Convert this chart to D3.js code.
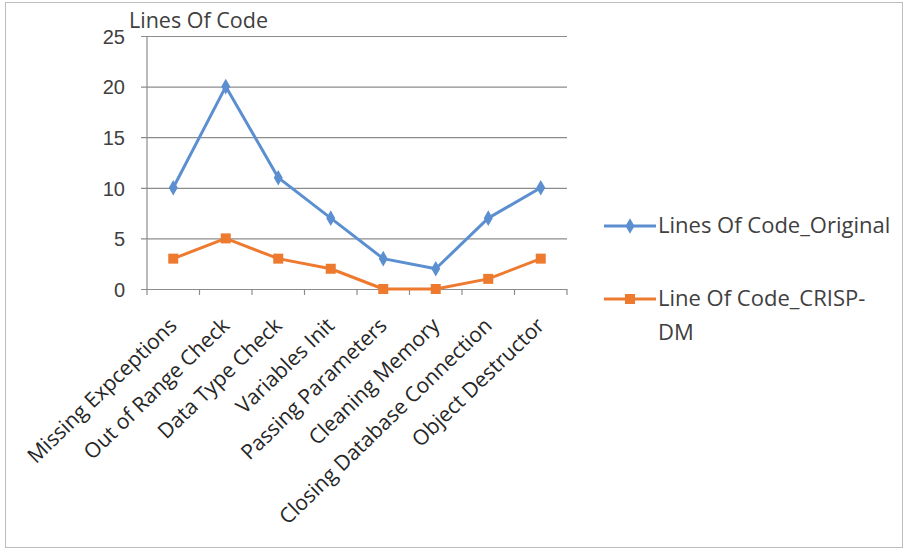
<!DOCTYPE html>
<html>
<head>
<meta charset="utf-8">
<script src="https://cdn.jsdelivr.net/npm/d3@7"></script>
<style>
  html, body { margin: 0; padding: 0; background: #fff; }
  svg { display: block; font-family: "Open Sans", Lato, sans-serif; }
</style>
</head>
<body>
<svg id="chart" width="906" height="552"></svg>
<script>
// Lines of code per check, original implementation vs CRISP-DM version
const categories = [
  "Missing Expceptions", "Out of Range Check", "Data Type Check", "Variables Init",
  "Passing Parameters", "Cleaning Memory", "Closing Database Connection", "Object Destructor"
];
const originalValues = [10, 20, 11, 7, 3, 2, 7, 10];
const crispValues = [3, 5, 3, 2, 0, 0, 1, 3];
const yTicks = [0, 5, 10, 15, 20, 25];
const seriesNames = ["Lines Of Code_Original", "Line Of Code_CRISP-DM"];
const axisTitle = "Lines Of Code";

const blue = "#5b8fd0";
const orange = "#ee7a30";
const gridColor = "#8c8c8c";
const textColor = "#404040";

const svg = d3.select("#chart");

// outer frame
svg.append("rect")
  .attr("x", 5.5).attr("y", 2.5).attr("width", 897).attr("height", 545)
  .attr("fill", "#fff").attr("stroke", "#bdbdbd").attr("stroke-width", 1);

const plot = { left: 147, right: 567, top: 36, bottom: 289 };

const x = d3.scaleBand().domain(categories).range([plot.left, plot.right]);
const y = d3.scaleLinear().domain([0, 25]).range([plot.bottom, plot.top]);

// horizontal gridlines with small ticks to the left of the axis
const yAxis = d3.axisLeft(y).tickValues(yTicks).tickSize(-(plot.right - plot.left)).tickPadding(22).tickFormat(d3.format("d"));
const gy = svg.append("g").attr("transform", `translate(${plot.left},0)`).call(yAxis);
gy.select(".domain").remove();
gy.selectAll(".tick line").attr("stroke", gridColor).attr("stroke-width", 1.2).attr("x1", -6);
gy.selectAll(".tick text").attr("fill", textColor).style("font-size", "20px").attr("dy", "0.36em");

// vertical axis line
svg.append("line")
  .attr("x1", plot.left).attr("x2", plot.left)
  .attr("y1", plot.top).attr("y2", plot.bottom)
  .attr("stroke", gridColor).attr("stroke-width", 1.2);

// category axis: tick marks at band boundaries
const boundaries = categories.map(c => x(c)).concat([plot.right]);
svg.append("g").selectAll("line").data(boundaries).join("line")
  .attr("x1", d => d).attr("x2", d => d)
  .attr("y1", plot.bottom).attr("y2", plot.bottom + 6)
  .attr("stroke", gridColor).attr("stroke-width", 1.2);

// rotated category labels
svg.append("g").selectAll("text").data(categories).join("text")
  .attr("transform", d => `translate(${x(d) + x.bandwidth() / 2 + 5},${plot.bottom + 38}) rotate(-44)`)
  .attr("text-anchor", "end")
  .attr("fill", "#262626")
  .style("font-size", "21px")
  .text(d => d);

// axis title
svg.append("text")
  .attr("x", 129).attr("y", 28)
  .attr("fill", textColor)
  .style("font-size", "21.5px")
  .text(axisTitle);

const cx = d => x(d) + x.bandwidth() / 2;
const line = d3.line().x((v, i) => cx(categories[i])).y(v => y(v));

// CRISP-DM series
svg.append("path").datum(crispValues)
  .attr("d", line).attr("fill", "none")
  .attr("stroke", orange).attr("stroke-width", 3).attr("stroke-linejoin", "round");
svg.append("g").selectAll("rect").data(crispValues).join("rect")
  .attr("x", (v, i) => cx(categories[i]) - 5)
  .attr("y", v => y(v) - 5)
  .attr("width", 10).attr("height", 10)
  .attr("fill", orange);

// Original series
svg.append("path").datum(originalValues)
  .attr("d", line).attr("fill", "none")
  .attr("stroke", blue).attr("stroke-width", 3).attr("stroke-linejoin", "round");
const diamond = d3.symbol().type(d3.symbolDiamond).size(70);
svg.append("g").selectAll("path").data(originalValues).join("path")
  .attr("transform", (v, i) => `translate(${cx(categories[i])},${y(v)})`)
  .attr("d", diamond)
  .attr("fill", blue);

// legend
const legend = svg.append("g");
const legendItems = [
  { name: seriesNames[0], color: blue, marker: "diamond", y: 226, lines: ["Lines Of Code_Original"] },
  { name: seriesNames[1], color: orange, marker: "square", y: 299, lines: ["Line Of Code_CRISP-", "DM"] }
];
legendItems.forEach(item => {
  legend.append("line")
    .attr("x1", 604).attr("x2", 656)
    .attr("y1", item.y).attr("y2", item.y)
    .attr("stroke", item.color).attr("stroke-width", 3);
  if (item.marker === "diamond") {
    legend.append("path")
      .attr("transform", `translate(630,${item.y})`)
      .attr("d", diamond).attr("fill", item.color);
  } else {
    legend.append("rect")
      .attr("x", 625).attr("y", item.y - 5)
      .attr("width", 10).attr("height", 10).attr("fill", item.color);
  }
  const t = legend.append("text")
    .attr("x", 658).attr("y", item.y + 7)
    .attr("fill", textColor)
    .style("font-size", "22px");
  item.lines.forEach((l, i) => {
    t.append("tspan").attr("x", 658).attr("dy", i === 0 ? 0 : 34).text(l);
  });
});
</script>
</body>
</html>
